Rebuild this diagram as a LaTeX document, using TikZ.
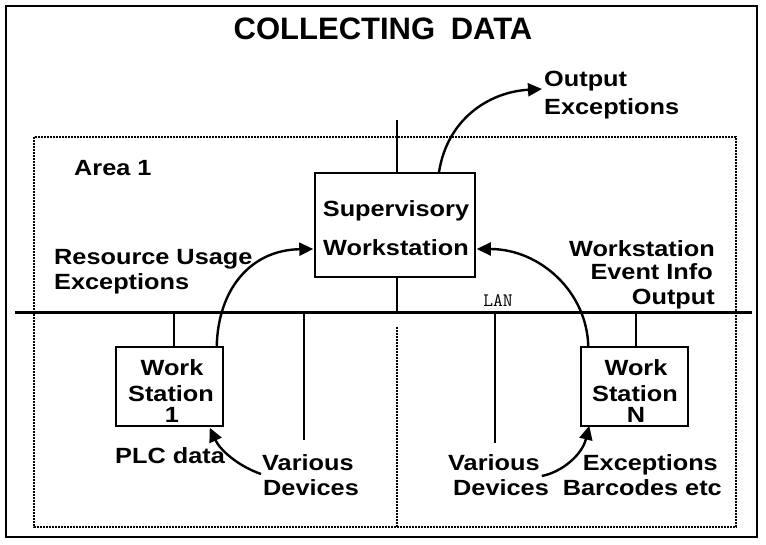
\documentclass[tikz,border=0pt]{standalone}
\usepackage{fontspec}
\setmainfont{Liberation Sans}
\newfontfamily\lblfont[FakeStretch=1.15]{Liberation Sans}
\newfontfamily\titlefont{Liberation Sans}
\usetikzlibrary{arrows.meta,calc}

\begin{document}
\begin{tikzpicture}[x=1pt,y=-1pt,
  lbl/.style={font=\lblfont\bfseries\fontsize{22}{26}\selectfont, inner sep=0pt},
  ttl/.style={font=\titlefont\bfseries\fontsize{31}{35}\selectfont, inner sep=0pt},
  lantext/.style={font=\ttfamily\fontsize{19}{21}\selectfont, inner sep=0pt},
  box/.style={draw, line width=1.5pt, inner sep=0pt},
  wire/.style={line width=1.4pt},
  bus/.style={line width=3pt},
  flow/.style={line width=2.4pt, -{Triangle[length=14pt,width=13pt]}},
  area/.style={line width=1.6pt, dash pattern=on 1.6pt off 1.4pt}]
\useasboundingbox (0,0) rectangle (766,545);

% outer frame and title
\draw[line width=2pt] (6,6) rectangle (757,537);
\node[ttl, anchor=base] (title) at (383,40) {COLLECTING\hspace{7pt} DATA};

% dotted area outline, split below the LAN
\draw[area] (34,137) rectangle (736,527);
\draw[area] (397,327) -- (397,527);
\node[lbl, anchor=base west] (area) at (74,176) {Area 1};

% LAN bus
\coordinate (lanL) at (15,313);
\coordinate (lanR) at (752,313);
\draw[bus] (lanL) -- (lanR);
\node[lantext, anchor=base] (lan) at (498,307) {LAN};

% stations
\node[box, minimum width=160pt, minimum height=104pt] (sup) at (395,225) {};
\node[lbl, anchor=base] (supA) at (396,217) {Supervisory};
\node[lbl, anchor=base] (supB) at (396,256) {Workstation};

\node[box, minimum width=107pt, minimum height=79pt] (ws1) at (169.5,386.5) {};
\node[lbl, anchor=base] (ws1a) at (172,375) {Work};
\node[lbl, anchor=base] (ws1b) at (171,402) {Station};
\node[lbl, anchor=base] (ws1c) at (172,422) {1};

\node[box, minimum width=107pt, minimum height=79pt] (wsn) at (634.5,386.5) {};
\node[lbl, anchor=base] (wsna) at (636,375) {Work};
\node[lbl, anchor=base] (wsnb) at (635,402) {Station};
\node[lbl, anchor=base] (wsnc) at (636,422) {N};

% drops from the bus
\coordinate (supTop) at (397,120);
\draw[wire] (supTop) -- (supTop |- sup.north);
\draw[wire] (supTop |- sup.south) -- (supTop |- lanL);
\draw[wire] ([xshift=4.5pt]ws1.north) -- ++(0,-34);
\draw[wire] ([xshift=1.5pt]wsn.north) -- ++(0,-34);
\coordinate (tapA) at (304,313);
\coordinate (devA) at (304,440);
\coordinate (tapB) at (495,313);
\coordinate (devB) at (495,443);
\draw[wire] (tapA) -- (devA);
\draw[wire] (tapB) -- (devB);

% labels
\node[lbl, anchor=base west] (outA) at (544,87) {Output};
\node[lbl, anchor=base west] (outB) at (544,115) {Exceptions};

\node[lbl, anchor=base west] (resA) at (54,265) {Resource Usage};
\node[lbl, anchor=base west] (resB) at (54,290) {Exceptions};

\node[lbl, anchor=base east] (evA) at (715,257) {Workstation};
\node[lbl, anchor=base east] (evB) at (713,280) {Event Info};
\node[lbl, anchor=base east] (evC) at (715,305) {Output};

\node[lbl, anchor=base west] (plc) at (115,463) {PLC data};
\node[lbl, anchor=base west] (varA) at (262,470) {Various};
\node[lbl, anchor=base west] (devAtxt) at (263,495) {Devices};

\node[lbl, anchor=base west] (varB) at (448,470) {Various};
\node[lbl, anchor=base west] (devBtxt) at (453,495) {Devices};

\node[lbl, anchor=base east] (excA) at (718,470) {Exceptions};
\node[lbl, anchor=base east] (excB) at (722,495) {Barcodes etc};

% data flows
\draw[flow] ([xshift=44pt]sup.north) .. controls (447,120) and (488,92) .. ([shift={(-2pt,-2pt)}]outA.base west);
\draw[flow] ([xshift=-7pt]ws1.north east) .. controls (218,290) and (250,250) .. ([shift={(-1pt,-24pt)}]sup.west);
\draw[flow] ([xshift=8pt]wsn.north west) .. controls (587,292) and (540,249) .. ([shift={(1pt,-24pt)}]sup.east);
\draw[flow] ([shift={(-1pt,-4pt)}]varA.base west) .. controls (238,466) and (220,450) .. ([shift={(-14pt,-1pt)}]ws1.south east);
\draw[flow] ([shift={(2pt,-6pt)}]varB.base east) .. controls (562,472) and (582,455) .. ([shift={(9pt,1pt)}]wsn.south west);
\end{tikzpicture}
\end{document}
